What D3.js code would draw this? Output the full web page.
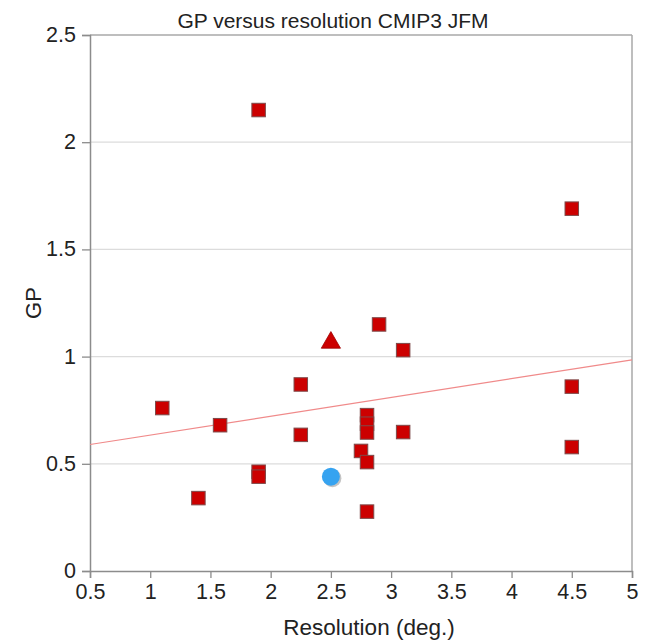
<!DOCTYPE html>
<html>
<head>
<meta charset="utf-8">
<script src="https://cdn.jsdelivr.net/npm/d3@7"></script>
<style>
  html, body { margin: 0; padding: 0; background: #fff; }
  svg { display: block; }
  text { font-family: "Liberation Sans", Arial, sans-serif; fill: #222; }
</style>
</head>
<body>
<div id="chart"></div>
<script>
// ---- data ----
const squareX = [1.9, 4.5, 2.9, 3.1, 4.5, 2.25, 1.1, 1.58, 2.25, 2.8, 2.8, 2.8, 3.1, 2.75, 2.8, 1.9, 1.9, 1.4, 2.8, 4.5];
const squareY = [2.15, 1.69, 1.15, 1.03, 0.86, 0.87, 0.76, 0.68, 0.635, 0.727, 0.687, 0.646, 0.648, 0.56, 0.508, 0.463, 0.44, 0.34, 0.277, 0.578];
const triangleX = [2.5];
const triangleY = [1.065];
const circleX = [2.5];
const circleY = [0.44];
const trendX = [0.5, 5];
const trendY = [0.59, 0.985];
const xTicks = [0.5, 1, 1.5, 2, 2.5, 3, 3.5, 4, 4.5, 5];
const yTicks = [0, 0.5, 1, 1.5, 2, 2.5];
const titleText = "GP versus resolution CMIP3 JFM";
const xLabel = "Resolution (deg.)";
const yLabel = "GP";

// ---- layout ----
const W = 646, H = 641;
const m = { left: 90, right: 14, top: 35, bottom: 70 };
const svg = d3.select("#chart").append("svg").attr("width", W).attr("height", H);

const x = d3.scaleLinear().domain([0.5, 5]).range([m.left, W - m.right]);
const y = d3.scaleLinear().domain([0, 2.5]).range([H - m.bottom, m.top]);

// gridlines
svg.append("g").selectAll("line").data(yTicks.filter(d => d > 0 && d < 2.5)).join("line")
  .attr("x1", x(0.5)).attr("x2", x(5))
  .attr("y1", d => y(d)).attr("y2", d => y(d))
  .attr("stroke", "#dcdcdc").attr("stroke-width", 1.3);

// frame (top + right)
svg.append("line").attr("x1", x(0.5)).attr("x2", x(5)).attr("y1", y(2.5)).attr("y2", y(2.5))
  .attr("stroke", "#a8a8a8").attr("stroke-width", 1.5);
svg.append("line").attr("x1", x(5)).attr("x2", x(5)).attr("y1", y(2.5)).attr("y2", y(0))
  .attr("stroke", "#a8a8a8").attr("stroke-width", 1.5);

// axes
const xAxis = d3.axisBottom(x).tickValues(xTicks).tickSize(7).tickPadding(6)
  .tickFormat(d => String(d));
const yAxis = d3.axisLeft(y).tickValues(yTicks).tickSize(8).tickPadding(6)
  .tickFormat(d => String(d));

const gx = svg.append("g").attr("transform", `translate(0,${y(0)})`).call(xAxis);
const gy = svg.append("g").attr("transform", `translate(${x(0.5)},0)`).call(yAxis);
[gx, gy].forEach(g => {
  g.select(".domain").attr("stroke", "#8c8c8c").attr("stroke-width", 1.5);
  g.selectAll(".tick line").attr("stroke", "#8c8c8c").attr("stroke-width", 1.3);
  g.selectAll(".tick text").attr("font-size", 21.5).attr("fill", "#222")
    .attr("font-family", "'Liberation Sans', Arial, sans-serif");
});
gy.selectAll(".tick text").attr("dy", "0.3em");

// trend line
svg.append("line")
  .attr("x1", x(trendX[0])).attr("y1", y(trendY[0]))
  .attr("x2", x(trendX[1])).attr("y2", y(trendY[1]))
  .attr("stroke", "#f08a8a").attr("stroke-width", 1.2);

// squares
const sq = 13.5;
const squares = squareX.map((v, i) => ({ x: v, y: squareY[i] }));
svg.append("g").selectAll("rect").data(squares).join("rect")
  .attr("x", d => x(d.x) - sq / 2).attr("y", d => y(d.y) - sq / 2)
  .attr("width", sq).attr("height", sq)
  .attr("fill", "#cc0000").attr("stroke", "#7d4a4a").attr("stroke-width", 1);

// triangle
const tri = triangleX.map((v, i) => ({ x: v, y: triangleY[i] }));
svg.append("g").selectAll("path").data(tri).join("path")
  .attr("d", d3.symbol().type(d3.symbolTriangle).size(160))
  .attr("transform", d => `translate(${x(d.x)},${y(d.y)})`)
  .attr("fill", "#cc0000").attr("stroke", "#a00000").attr("stroke-width", 0.8);

// circle with soft shadow
const circ = circleX.map((v, i) => ({ x: v, y: circleY[i] }));
svg.append("g").selectAll("circle.sh").data(circ).join("circle")
  .attr("cx", d => x(d.x) + 1.5).attr("cy", d => y(d.y) + 1.5).attr("r", 9)
  .attr("fill", "#555").attr("opacity", 0.35);
svg.append("g").selectAll("circle.c").data(circ).join("circle")
  .attr("cx", d => x(d.x)).attr("cy", d => y(d.y)).attr("r", 9)
  .attr("fill", "#36a3f0");

// title & labels
svg.append("text").attr("x", 333).attr("y", 28)
  .attr("text-anchor", "middle").attr("font-size", 21).text(titleText);
svg.append("text").attr("x", 369).attr("y", 635)
  .attr("text-anchor", "middle").attr("font-size", 22.5).text(xLabel);
svg.append("text").attr("transform", `translate(41,${(y(0) + y(2.5)) / 2}) rotate(-90)`)
  .attr("text-anchor", "middle").attr("font-size", 22).text(yLabel);
</script>
</body>
</html>
